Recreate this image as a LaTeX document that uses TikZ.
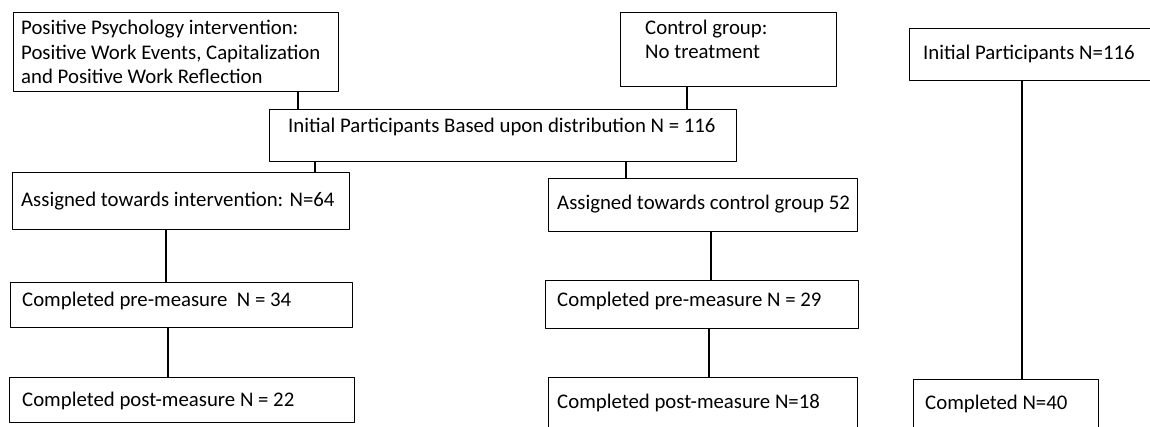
\documentclass[tikz,border=0pt]{standalone}
\usepackage{fontspec}
\setmainfont{Carlito}
\begin{document}
\begin{tikzpicture}[x=1pt,y=-1pt,line join=round,
  box/.style={draw,line width=1.2pt,rectangle,anchor=north west,inner sep=0pt},
  txt/.style={anchor=west,align=left,inner sep=0pt,font=\fontsize{20.8}{24.5}\selectfont}]
  \useasboundingbox (0,0) rectangle (1150,426);
  \clip (0,0) rectangle (1150,426);
  % hop tren
  \node[box,minimum width=325,minimum height=79] (pp) at (13,12) {};
  \node[box,minimum width=216,minimum height=74] (ctrl) at (620,12) {};
  \node[box,minimum width=467,minimum height=52] (init) at (269,109) {};
  % cot trai
  \node[box,minimum width=337,minimum height=57] (asgI) at (12,172) {};
  \node[box,minimum width=342,minimum height=45] (preI) at (10,282) {};
  \node[box,minimum width=345,minimum height=45] (postI) at (9,377) {};
  % cot giua
  \node[box,minimum width=309,minimum height=53] (asgC) at (548,178) {};
  \node[box,minimum width=313,minimum height=48] (preC) at (545,280) {};
  \node[box,minimum width=309,minimum height=70] (postC) at (548,377) {};
  % cot phai
  \node[box,minimum width=270,minimum height=52] (initR) at (909,28) {};
  \node[box,minimum width=185,minimum height=70] (compR) at (913,379) {};
  % chu
  \node[txt] (pp-t) at ([xshift=8,yshift=-40]pp.north west)
    {Positive Psychology intervention:\\Positive Work Events, Capitalization\\and Positive Work Reflection};
  \node[txt] (ctrl-t) at ([xshift=25,yshift=-27.5]ctrl.north west) {Control group:\\No treatment};
  \node[txt] (init-t) at ([xshift=19,yshift=-18]init.north west) {Initial Participants Based upon distribution N = 116};
  \node[txt] (asgI-t) at ([xshift=9,yshift=-29]asgI.north west) {Assigned towards intervention: N=64};
  \node[txt] (preI-t) at ([xshift=12,yshift=-19]preI.north west) {Completed pre-measure\ \ N = 34};
  \node[txt] (postI-t) at ([xshift=13,yshift=-24]postI.north west) {Completed post-measure N = 22};
  \node[txt] (asgC-t) at ([xshift=9,yshift=-26]asgC.north west) {Assigned towards control group 52};
  \node[txt] (preC-t) at ([xshift=12,yshift=-21]preC.north west) {Completed pre-measure N = 29};
  \node[txt] (postC-t) at ([xshift=9,yshift=-26]postC.north west) {Completed post-measure N=18};
  \node[txt] (initR-t) at ([xshift=14,yshift=-26]initR.north west) {Initial Participants N=116};
  \node[txt] (compR-t) at ([xshift=12,yshift=-25]compR.north west) {Completed N=40};
  % duong noi
  \begin{scope}[line width=1.2pt]
    \draw ([xshift=285]pp.south west) -- ([xshift=285]pp.south west |- init.north);
    \draw ([xshift=67]ctrl.south west) -- ([xshift=67]ctrl.south west |- init.north);
    \draw ([xshift=46]init.south west) -- ([xshift=46]init.south west |- asgI.north);
    \draw ([xshift=357]init.south west) -- ([xshift=357]init.south west |- asgC.north);
    \draw ([xshift=154]asgI.south west) -- ([xshift=154]asgI.south west |- preI.north);
    \draw ([xshift=158]preI.south west) -- ([xshift=158]preI.south west |- postI.north);
    \draw ([xshift=163]asgC.south west) -- ([xshift=163]asgC.south west |- preC.north);
    \draw ([xshift=164]preC.south west) -- ([xshift=164]preC.south west |- postC.north);
    \draw ([xshift=113]initR.south west) -- ([xshift=113]initR.south west |- compR.north);
  \end{scope}
\end{tikzpicture}
\end{document}
